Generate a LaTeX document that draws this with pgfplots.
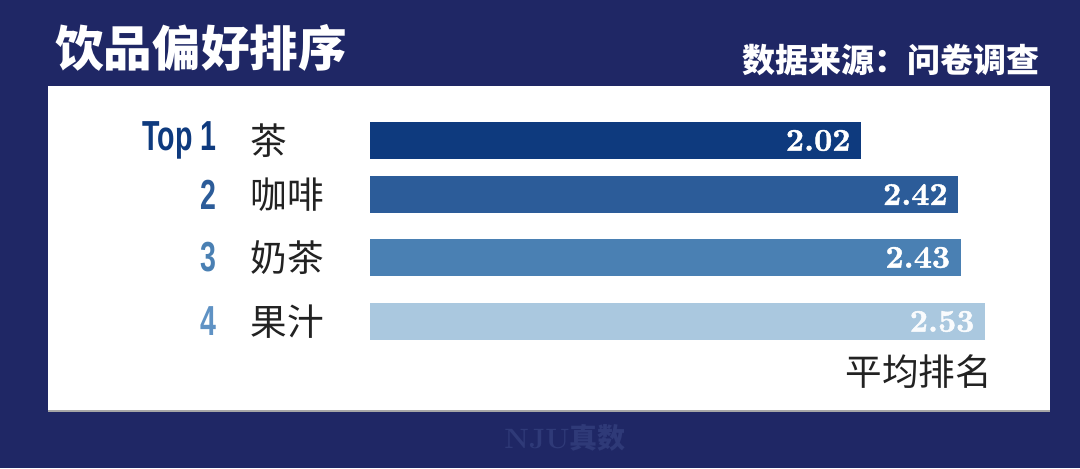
\documentclass[border=0pt]{standalone}
\usepackage{pgfplots}
\pgfplotsset{compat=1.18}
\usepackage{fontspec}
\newfontfamily\cjk{Noto Sans CJK SC}
\newfontfamily\rankfont{Liberation Sans}
\newfontfamily\valfont{lmroman10-bold}[Extension=.otf, FakeBold=1.3]

\definecolor{navybg}{HTML}{1F2765}
\definecolor{barA}{HTML}{0E3A7E}
\definecolor{barB}{HTML}{2C5C99}
\definecolor{barC}{HTML}{4A80B3}
\definecolor{barD}{HTML}{AAC8DF}
\definecolor{rankD}{HTML}{5F92C4}
\definecolor{labelgray}{HTML}{222222}
\definecolor{wmark}{HTML}{2F3A78}

\begin{document}
\begin{tikzpicture}
\begin{axis}[
    scale only axis,
    width=540pt, height=234pt,
    xmin=-1.52263, xmax=2.92181,
    ymin=0, ymax=468,
    axis lines=none,
    xtick=\empty, ytick=\empty,
    clip=false,
    /pgf/number format/fixed,
    /pgf/number format/precision=2,
    /pgf/number format/fixed zerofill,
    /pgf/number format/assume math mode=true,
    every axis plot/.append style={xbar, bar width=18.5pt, bar shift=0pt, draw=none,
        nodes near coords, point meta=x,
        nodes near coords style={anchor=east, inner sep=0pt, xshift=-5pt, text=white,
            font=\valfont\fontsize{15.8}{16}\selectfont}},
]
% background and panel
\fill[navybg] (rel axis cs:0,0) rectangle (rel axis cs:1,1);
\fill[white] (rel axis cs:0.04444,0.12179) rectangle (rel axis cs:0.97222,0.81624);
\draw[color=gray!70, line width=0.6pt] (rel axis cs:0.04444,0.12179) -- (rel axis cs:0.97222,0.12179);

% titles
\node[anchor=west, inner sep=0pt, text=white, font=\cjk\bfseries\fontsize{24.3}{25}\selectfont]
    at (rel axis cs:0.0509,0.8974) {饮品偏好排序};
\node[anchor=east, inner sep=0pt, text=white, font=\cjk\bfseries\fontsize{16.5}{17}\selectfont]
    at (rel axis cs:0.9630,0.8718) {数据来源：问卷调查};

% bars
\addplot[fill=barA] coordinates {(2.02,327.5)};
\addplot[fill=barB] coordinates {(2.42,273.5)};
\addplot[fill=barC] coordinates {(2.43,210.5)};
\addplot[fill=barD, nodes near coords style={text=white!93!barD}] coordinates {(2.53,146.5)};

% rank labels
\node[anchor=east, inner sep=0pt, text=barA, font=\rankfont\bfseries\fontsize{21}{22}\selectfont]
    at (axis cs:-0.6296,327.5) {\scalebox{0.68}[1]{Top 1}};
\node[anchor=east, inner sep=0pt, text=barB, font=\rankfont\bfseries\fontsize{21}{22}\selectfont]
    at (axis cs:-0.6296,273.5) {\scalebox{0.68}[1]{2}};
\node[anchor=east, inner sep=0pt, text=barC, font=\rankfont\bfseries\fontsize{21}{22}\selectfont]
    at (axis cs:-0.6296,210.5) {\scalebox{0.68}[1]{3}};
\node[anchor=east, inner sep=0pt, text=rankD, font=\rankfont\bfseries\fontsize{21}{22}\selectfont]
    at (axis cs:-0.6296,146.5) {\scalebox{0.68}[1]{4}};

% category names
\node[anchor=west, inner sep=0pt, text=labelgray, font=\cjk\fontsize{18.3}{19}\selectfont]
    at (axis cs:-0.4938,327.5) {茶};
\node[anchor=west, inner sep=0pt, text=labelgray, font=\cjk\fontsize{18.3}{19}\selectfont]
    at (axis cs:-0.4938,273.5) {咖啡};
\node[anchor=west, inner sep=0pt, text=labelgray, font=\cjk\fontsize{18.3}{19}\selectfont]
    at (axis cs:-0.4938,210.5) {奶茶};
\node[anchor=west, inner sep=0pt, text=labelgray, font=\cjk\fontsize{18.3}{19}\selectfont]
    at (axis cs:-0.4938,146.5) {果汁};

% axis caption
\node[anchor=west, inner sep=0pt, text=labelgray, font=\cjk\fontsize{18.3}{19}\selectfont]
    at (axis cs:1.9547,96) {平均排名};

% watermark
\node[text=wmark, font=\bfseries\fontsize{14}{15}\selectfont]
    at (rel axis cs:0.5231,0.0641) {NJU{\cjk 真数}};
\end{axis}
\end{tikzpicture}
\end{document}
